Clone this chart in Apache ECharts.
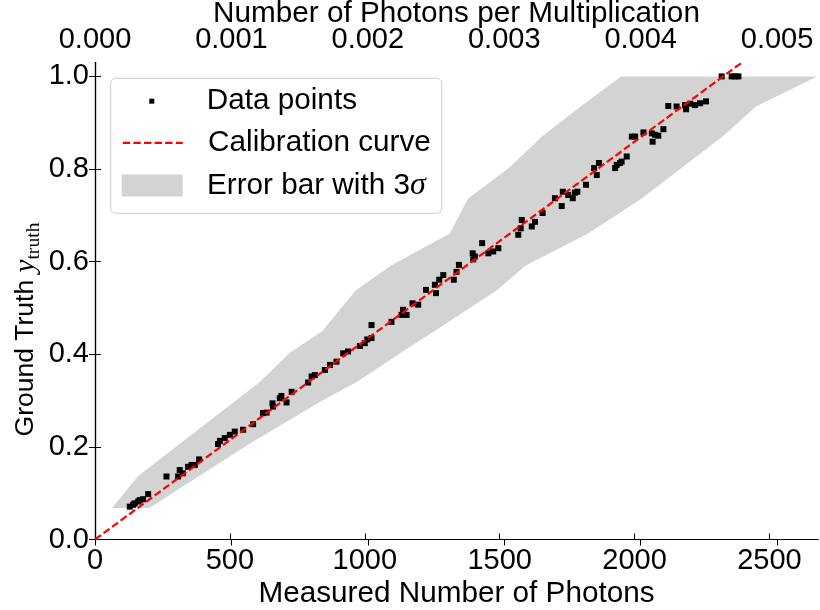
<!DOCTYPE html>
<html><head><meta charset="utf-8">
<script src="https://cdn.jsdelivr.net/npm/echarts@6/dist/echarts.min.js"></script>
<style>html,body{margin:0;padding:0;background:#fff}#c{width:820px;height:610px}</style>
</head><body><div id="c"></div>
<script>
// ---- data ----
const photons = [129,141,147,160,166,178,197,265,308,314,326,345,358,370,386,456,463,481,500,518,549,586,623,636,658,660,685,691,710,729,790,803,815,852,871,895,920,938,982,1000,1009,1025,1025,1099,1136,1142,1155,1177,1198,1227,1260,1264,1276,1291,1330,1340,1349,1400,1402,1408,1435,1458,1476,1495,1569,1578,1582,1619,1631,1659,1705,1730,1734,1754,1771,1779,1788,1820,1850,1860,1868,1928,1934,1946,1952,1971,1990,2002,2033,2064,2067,2076,2088,2107,2125,2156,2187,2191,2206,2224,2243,2265,2323,2360,2373,2385];
const truth = [0.071,0.075,0.078,0.082,0.085,0.087,0.098,0.136,0.136,0.150,0.143,0.157,0.161,0.161,0.173,0.206,0.213,0.219,0.226,0.233,0.237,0.249,0.273,0.274,0.294,0.287,0.305,0.310,0.296,0.319,0.339,0.352,0.355,0.366,0.377,0.384,0.402,0.406,0.418,0.424,0.432,0.463,0.435,0.470,0.485,0.496,0.485,0.510,0.507,0.539,0.550,0.532,0.561,0.571,0.561,0.578,0.593,0.618,0.605,0.611,0.640,0.618,0.622,0.629,0.658,0.672,0.690,0.676,0.686,0.705,0.737,0.720,0.751,0.744,0.737,0.749,0.751,0.766,0.802,0.787,0.813,0.802,0.809,0.813,0.816,0.827,0.870,0.870,0.879,0.877,0.859,0.874,0.872,0.886,0.936,0.935,0.938,0.929,0.941,0.938,0.942,0.946,1.0,1.0,1.0,1.0];
const calibX = [0, 2398];
const calibY = [0, 1.03];
const bandY     = [0.068,0.137,0.211,0.297,0.340,0.403,0.449,0.538,0.592,0.661,0.736,0.802,0.872,0.935,1.0];
const bandLeft  = [63,160,324,515,611,722,841,967,1099,1315,1382,1534,1660,1800,1950];
const bandRight = [201,386,585,833,970,1134,1256,1490,1598,1828,2025,2174,2330,2450,2677];
const bottomTicks = [0,500,1000,1500,2000,2500];
const topTicks = [0,0.001,0.002,0.003,0.004,0.005];
const yTicks = [0,0.2,0.4,0.6,0.8,1.0];
const xMax = 2680, topMax = 0.0053, yMax = 1.03;
// --------------------------------------

const FONT = 'Liberation Sans, Arial, sans-serif';
const TICK_FS = 29, TITLE_FS = 29.7, LEG_FS = 29.7, YT_FS = 26.5;
const chart = echarts.init(document.getElementById('c'), null, {renderer:'canvas'});
const axisLine = {show:true, lineStyle:{color:'#000', width:1.2}};
const tick = (vals)=>({show:true, inside:true, length:6, customValues:vals, lineStyle:{color:'#000', width:1}});

const option = {
  animation:false,
  backgroundColor:'#fff',
  grid:{left:95, right:2, top:62.5, bottom:70.5, containLabel:false, outerBoundsMode:'none'},
  xAxis:[
    {type:'value', position:'bottom', min:0, max:xMax,
     name:'Measured Number of Photons', nameLocation:'middle', nameGap:39.5, nameMoveOverlap:false,
     nameTextStyle:{fontFamily:FONT, fontSize:TITLE_FS, color:'#000'},
     axisLine, axisTick:tick(bottomTicks), splitLine:{show:false},
     axisLabel:{customValues:bottomTicks, formatter:v=>String(v), fontFamily:FONT, fontSize:TICK_FS, color:'#000', margin:6.5}},
    {type:'value', position:'top', min:0, max:topMax,
     name:'Number of Photons per Multiplication', nameLocation:'middle', nameGap:34, nameMoveOverlap:false,
     nameTextStyle:{fontFamily:FONT, fontSize:TITLE_FS, color:'#000'},
     axisLine, axisTick:tick(topTicks), splitLine:{show:false},
     axisLabel:{customValues:topTicks, formatter:v=>v.toFixed(3), fontFamily:FONT, fontSize:TICK_FS, color:'#000', margin:8}}
  ],
  yAxis:[
    {type:'value', position:'left', min:0, max:yMax,
     name:'Ground Truth {y|y}{s|truth}', nameLocation:'middle', nameGap:51, nameMoveOverlap:false,
     nameTextStyle:{fontFamily:FONT, fontSize:YT_FS, color:'#000', lineHeight:36, padding:[0,57,0,0],
       rich:{y:{fontFamily:'Liberation Serif, serif', fontStyle:'italic', fontSize:29, lineHeight:36},
             s:{fontFamily:'Liberation Serif, serif', fontSize:19.6, lineHeight:19.6, verticalAlign:'bottom'}}},
     axisLine, axisTick:tick(yTicks), splitLine:{show:false},
     axisLabel:{customValues:yTicks, formatter:v=>v.toFixed(1), fontFamily:FONT, fontSize:TICK_FS, color:'#000', margin:6}},
    {type:'value', position:'right', min:0, max:yMax,
     axisLine, axisTick:tick(yTicks), splitLine:{show:false}, axisLabel:{show:false}}
  ],
  legend:[
    {data:['Data points'], left:149.3, top:86.2, padding:0, itemWidth:5, itemHeight:5, icon:'rect',
     itemStyle:{opacity:1},
     textStyle:{fontFamily:FONT, fontSize:LEG_FS, color:'#000', padding:[0,0,0,47.5]}},
    {data:['Calibration curve'], left:121.7, top:127.9, padding:0, itemWidth:60, itemHeight:14,
     itemStyle:{opacity:0},
     lineStyle:{color:'#ff0000', width:2.2, type:[7.4,3.2]},
     textStyle:{fontFamily:FONT, fontSize:LEG_FS, color:'#000', padding:[0,0,0,20.3]}},
    {data:['Error bar with 3σ'], left:121.7, top:169.5, padding:0, itemWidth:61, itemHeight:22, icon:'rect',
     formatter:()=> '{t|Error bar with 3}{g|σ}',
     textStyle:{fontFamily:FONT, fontSize:LEG_FS, color:'#000', padding:[0,0,0,19.3],
       rich:{t:{fontFamily:FONT, fontSize:LEG_FS}, g:{fontFamily:'Liberation Serif, serif', fontStyle:'italic', fontSize:32}}}}
  ],
  graphic:[{type:'rect', shape:{x:110.7, y:78.3, width:331, height:135, r:5}, z:0,
            style:{fill:'rgba(255,255,255,0.8)', stroke:'#cccccc', lineWidth:1}}],
  series:[
    {type:'custom', name:'Error bar with 3σ', xAxisIndex:0, yAxisIndex:0, data:[[0,0]], z:1, silent:true,
     itemStyle:{color:'#d3d3d3'},
     renderItem(params, api){
       const pts=[];
       for(let i=0;i<bandY.length;i++) pts.push(api.coord([bandLeft[i], bandY[i]]));
       for(let i=bandY.length-1;i>=0;i--) pts.push(api.coord([bandRight[i], bandY[i]]));
       return {type:'polygon', shape:{points:pts}, style:{fill:'#d3d3d3'}};
     }},
    {type:'scatter', name:'Data points', xAxisIndex:0, yAxisIndex:0, symbol:'rect', symbolSize:6, z:3,
     itemStyle:{color:'#000', opacity:1}, data:photons.map((p,i)=>[p,truth[i]])},
    {type:'line', name:'Calibration curve', xAxisIndex:0, yAxisIndex:0, symbol:'none', showSymbol:false, z:4, clip:true,
     lineStyle:{color:'#ff0000', width:2.2, type:[7.4,3.2]}, itemStyle:{color:'#ff0000'},
     data:calibX.map((x,i)=>[x,calibY[i]])}
  ]
};
chart.setOption(option);
</script></body></html>
